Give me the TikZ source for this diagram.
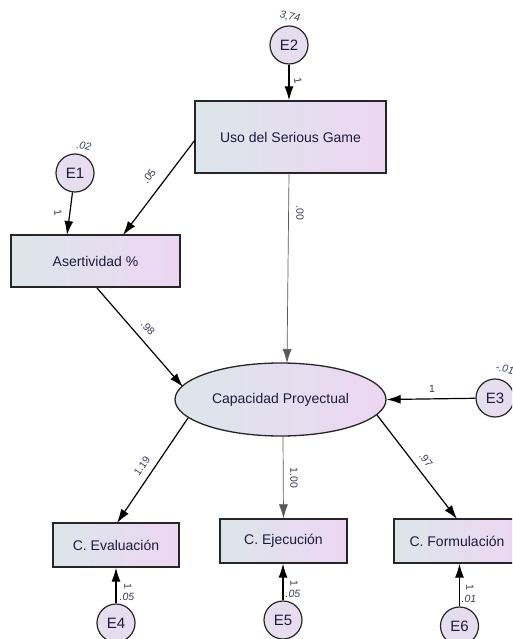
\documentclass[tikz,border=0pt]{standalone}
\usepackage{fontspec}
\setmainfont{Liberation Sans}
\usetikzlibrary{arrows.meta,shapes.geometric}
\definecolor{txt}{HTML}{1C1C3C}
\definecolor{lc}{HTML}{DCE6EA}
\definecolor{rc}{HTML}{EDD6F3}
\definecolor{cc}{HTML}{E8DCF0}
\definecolor{lab}{HTML}{3A3A5A}
\tikzset{
  obs/.style={rectangle, draw=black!85, line width=1.3pt, left color=lc, right color=rc,
    text=txt, font=\fontsize{14}{16}\selectfont, inner sep=0pt},
  lat/.style={ellipse, draw=black!85, line width=1.3pt, left color=lc, right color=rc,
    text=txt, font=\fontsize{14}{16}\selectfont, inner sep=0pt},
  err/.style={circle, draw=black!85, line width=1.2pt, left color=cc!70!lc, right color=cc,
    minimum size=38pt, inner sep=0pt, text=txt, font=\fontsize{15}{17}\selectfont},
  pth/.style={draw=black, line width=1.2pt, -{Latex[length=14pt,width=9pt]}},
  thinpth/.style={draw=black!65, line width=0.7pt, -{Latex[length=14pt,width=9pt]}},
  var/.style={font=\fontsize{10.5}{12}\selectfont\itshape, text=lab, inner sep=0pt},
  coef/.style={font=\fontsize{10.5}{12}\selectfont, text=lab, inner sep=0pt},
}
\begin{document}
\begin{tikzpicture}[x=1pt,y=-1pt]
\useasboundingbox (0,0) rectangle (512,639);
\clip (0,0) rectangle (512,639);
% nodes
\node[obs, minimum width=191pt, minimum height=72pt] (uso) at (290.5,137) {Uso del Serious Game};
\node[obs, minimum width=169pt, minimum height=52pt] (ase) at (95.5,261) {Asertividad \%};
\node[lat, minimum width=211pt, minimum height=73pt] (cap) at (280.5,399.5) {Capacidad Proyectual};
\node[obs, minimum width=126pt, minimum height=44pt] (eva) at (116,545) {C. Evaluación};
\node[obs, minimum width=127pt, minimum height=44pt] (eje) at (283.5,541) {C. Ejecución};
\node[obs, minimum width=126pt, minimum height=44pt] (for) at (457,541) {C. Formulación};
\node[err] (e2) at (289,45) {E2};
\node[err] (e1) at (75,173) {E1};
\node[err] (e3) at (495,398) {E3};
\node[err] (e4) at (116,623) {E4};
\node[err] (e5) at (283,620) {E5};
\node[err] (e6) at (459.5,626) {E6};
% anchor points
\coordinate (u1) at (195,140);
\coordinate (u2) at (289,173);
\coordinate (a1) at (67,235);
\coordinate (a2) at (123,235);
\coordinate (a3) at (97,288);
\coordinate (c1) at (183,387);
\coordinate (c2) at (287,363);
\coordinate (c3) at (188,418);
\coordinate (c4) at (283,436);
\coordinate (c5) at (377,415);
\coordinate (v1) at (117,523);
\coordinate (v3) at (457,519);
% connectors
\draw[pth] (e2) -- (e2 |- uso.north);
\draw[pth] (e1) -- (a1);
\draw[pth] (u1) -- (a2);
\draw[thinpth] (u2) -- (c2);
\draw[pth] (a3) -- (c1);
\draw[pth] (e3) -- (cap.east);
\draw[pth] (c3) -- (v1);
\draw[thinpth] (c4) -- (eje.north);
\draw[pth] (c5) -- (v3);
\draw[pth] (e4) -- (eva.south);
\draw[pth] (e5) -- (e5 |- eje.south);
\draw[pth] (e6) -- (e6 |- for.south);
% labels
\node[var, rotate=-12] (l1) at (290,17) {3,74};
\node[var, rotate=-12] (l2) at (84,146) {.02};
\node[var, rotate=-12] (l3) at (505,369) {-.01};
\node[coef, rotate=-80] (l4) at (298,81) {1};
\node[coef, rotate=-80] (l5) at (58,213) {1};
\node[coef, rotate=53] (l6) at (149,176) {.05};
\node[coef, rotate=-90] (l7) at (300,213) {.00};
\node[coef, rotate=-48] (l8) at (148,328) {.98};
\node[coef] (l9) at (432,389) {1};
\node[coef, rotate=55] (l10) at (142,466) {1.19};
\node[coef, rotate=-90] (l11) at (294,478) {1.00};
\node[coef, rotate=-52] (l12) at (426,460) {.97};
\node[coef, rotate=-90] (l13) at (128,586) {1};
\node[var] (l14) at (127,597) {.05};
\node[coef, rotate=-90] (l15) at (294,583) {1};
\node[var] (l16) at (293,594) {.05};
\node[coef, rotate=-90] (l17) at (470,587) {1};
\node[var] (l18) at (469,599) {.01};
\end{tikzpicture}
\end{document}
